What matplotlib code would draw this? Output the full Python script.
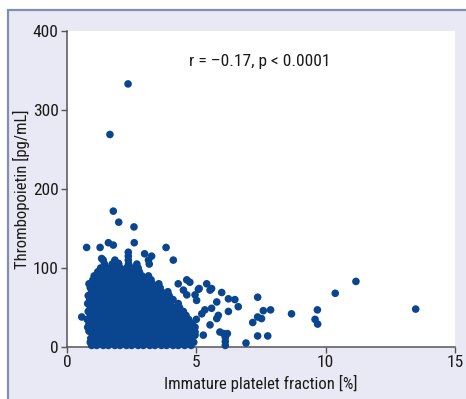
import matplotlib
matplotlib.use("Agg")
import matplotlib.pyplot as plt
from matplotlib.patches import Rectangle
from matplotlib import font_manager
import numpy as np

# ---- data ----
# dense cluster, listed row by row: TPO level -> IPF values
blob_levels = [2, 6, 11, 15, 20, 25, 30, 35, 40, 45, 50, 55, 60, 65, 70, 75, 80, 85, 90, 95, 100, 105, 110, 115, 120]
blob_rows = [
    [0.95, 1.15, 1.4, 1.6, 1.85, 2.05, 2.3, 2.5, 2.75, 2.95, 3.2, 3.4, 3.65, 3.85, 4.1, 4.3, 4.55, 4.8],
    [0.9, 1.1, 1.35, 1.55, 1.8, 2.0, 2.25, 2.45, 2.7, 2.9, 3.15, 3.35, 3.6, 3.8, 4.05, 4.25, 4.5, 4.75, 4.9],
    [0.92, 1.2, 1.45, 1.7, 1.9, 2.15, 2.35, 2.6, 2.8, 3.05, 3.25, 3.5, 3.7, 3.95, 4.15, 4.4, 4.6, 4.85],
    [1.0, 1.25, 1.5, 1.75, 2.0, 2.2, 2.45, 2.65, 2.9, 3.1, 3.35, 3.55, 3.8, 4.0, 4.25, 4.5, 4.7, 4.95],
    [0.85, 1.1, 1.3, 1.55, 1.8, 2.05, 2.25, 2.5, 2.7, 2.95, 3.2, 3.4, 3.6, 3.85, 4.05, 4.3, 4.55, 4.8],
    [0.8, 1.05, 1.3, 1.5, 1.75, 1.95, 2.2, 2.4, 2.65, 2.85, 3.1, 3.3, 3.55, 3.75, 4.0, 4.2, 4.45, 4.7, 4.95],
    [0.85, 1.1, 1.35, 1.6, 1.8, 2.05, 2.3, 2.5, 2.75, 2.95, 3.2, 3.45, 3.65, 3.9, 4.1, 4.35, 4.6, 4.85],
    [0.78, 1.0, 1.25, 1.45, 1.7, 1.9, 2.15, 2.4, 2.6, 2.85, 3.05, 3.3, 3.5, 3.75, 3.95, 4.2, 4.45, 4.7, 5.0],
    [0.9, 1.15, 1.4, 1.6, 1.85, 2.1, 2.3, 2.55, 2.75, 3.0, 3.2, 3.45, 3.65, 3.9, 4.1, 4.35, 4.6],
    [0.82, 1.05, 1.3, 1.55, 1.75, 2.0, 2.2, 2.45, 2.65, 2.9, 3.1, 3.35, 3.55, 3.8, 4.0, 4.25, 4.5],
    [0.9, 1.15, 1.4, 1.65, 1.85, 2.1, 2.3, 2.55, 2.8, 3.0, 3.25, 3.45, 3.7, 3.9, 4.15, 4.35],
    [0.8, 1.05, 1.3, 1.5, 1.75, 1.95, 2.2, 2.4, 2.65, 2.9, 3.1, 3.35, 3.55, 3.8, 4.0, 4.3],
    [0.88, 1.1, 1.35, 1.6, 1.8, 2.05, 2.25, 2.5, 2.7, 2.95, 3.15, 3.4, 3.6, 3.85, 4.1],
    [0.82, 1.05, 1.25, 1.5, 1.7, 1.95, 2.15, 2.4, 2.6, 2.85, 3.05, 3.3, 3.5, 3.75, 3.95],
    [0.95, 1.2, 1.4, 1.65, 1.85, 2.1, 2.3, 2.55, 2.75, 3.0, 3.2, 3.45, 3.65, 3.9],
    [0.9, 1.1, 1.35, 1.55, 1.8, 2.0, 2.25, 2.45, 2.7, 2.9, 3.15, 3.35, 3.6],
    [0.85, 1.05, 1.3, 1.5, 1.75, 1.95, 2.2, 2.4, 2.6, 2.85, 3.05, 3.3, 3.55],
    [1.0, 1.25, 1.45, 1.7, 1.9, 2.15, 2.35, 2.6, 2.8, 3.05, 3.25],
    [1.05, 1.3, 1.55, 1.75, 2.0, 2.2, 2.45, 2.65, 2.9, 3.15],
    [1.2, 1.4, 1.65, 1.85, 2.1, 2.35, 2.55, 2.8],
    [1.3, 1.55, 1.8, 2.05, 2.3, 2.5, 2.75],
    [1.45, 1.75, 2.0, 2.38, 2.7],
    [1.4, 1.85, 2.37, 3.15],
    [2.37],
    [2.37],
]

# individual points outside the dense cluster
ipf_points = [0.76, 1.28, 1.6, 1.79, 2.6, 3.83, 3.0, 3.27, 4.11, 3.18, 4.63, 4.3, 4.75,
              5.4, 5.59, 5.08, 5.11, 5.53, 4.5, 4.95, 5.98, 6.24, 6.49, 6.62, 6.24, 5.85,
              4.63, 5.01, 5.79, 5.21, 5.59, 5.33, 5.79, 5.53, 5.27, 4.95, 0.57,
              5.91, 6.05, 6.2, 6.12, 6.12, 6.12, 6.92,
              7.18, 7.37, 7.52, 7.37, 7.76, 7.37, 7.59, 7.87, 8.68,
              9.68, 9.59, 9.69, 10.37, 11.17, 13.48,
              1.66, 2.36, 1.79, 2.0, 2.59, 1.34, 1.19, 1.98]
tpo_points = [126, 126, 132, 129, 132, 126, 118, 115, 110, 105, 85, 80, 82,
              80, 74, 73, 74, 72, 72, 66, 69, 61, 60, 51, 45, 40,
              66, 59, 57, 42, 49, 47, 36, 28, 15, 19, 38,
              19, 17, 17, 12, 7, 2, 5,
              31, 38, 36, 14, 14, 63, 46, 47, 42,
              47, 35, 29, 68, 83, 48,
              269, 333, 172, 158, 152, 112, 95, 106]

x_ticks = [0, 5, 10, 15]
y_ticks = [0, 100, 200, 300, 400]
annotation = "r = \u20130.17, p < 0.0001"
x_label = "Immature platelet fraction [%]"
y_label = "Thrombopoietin [pg/mL]"

# ---- assemble ----
ipf = []
tpo = []
for lvl, row in zip(blob_levels, blob_rows):
    ipf.extend(row)
    tpo.extend([lvl] * len(row))
ipf.extend(ipf_points)
tpo.extend(tpo_points)

# pick a condensed sans font if one is installed
installed = {f.name for f in font_manager.fontManager.ttflist}
narrow = None
for cand in ['Liberation Sans Narrow', 'Arial Narrow', 'Roboto Condensed',
             'Open Sans Condensed', 'DejaVu Sans Condensed']:
    if cand in installed:
        narrow = cand
        break
if narrow is None:
    narrow = 'Liberation Sans'
plt.rcParams['font.family'] = [narrow, 'DejaVu Sans']
fs = 12.5 if 'Narrow' in narrow or 'Condensed' in narrow else 11

W, H = 466, 399
fig = plt.figure(figsize=(W / 100, H / 100), dpi=100)
fig.patch.set_facecolor('white')
bg = Rectangle((8 / W, -0.1), 1.2, 0.1 + (1 - 10 / H),
               transform=fig.transFigure, facecolor='#e9e9f5',
               edgecolor='#8190ae', linewidth=1.6, zorder=-10)
fig.add_artist(bg)

ax = fig.add_axes([67 / W, 52 / H, 388 / W, 316 / H])
ax.set_zorder(1)
ax.set_facecolor('white')
ax.scatter(ipf, tpo, s=30, color='#0a468f', edgecolors='none', zorder=3, clip_on=False)

ax.set_xlim(0, 15)
ax.set_ylim(0, 400)
ax.set_xticks(x_ticks)
ax.set_yticks(y_ticks)
ax.tick_params(direction='out', length=4, width=1, color='#555555', labelsize=fs,
               labelcolor='#1a1a1a', pad=2)
for s in ['top', 'right']:
    ax.spines[s].set_visible(False)
for s in ['left', 'bottom']:
    ax.spines[s].set_color('#555555')
    ax.spines[s].set_linewidth(1.1)

ax.set_xlabel(x_label, fontsize=fs - 0.5, color='#1a1a1a', labelpad=3)
ax.set_ylabel(y_label, fontsize=fs - 0.5, color='#1a1a1a', labelpad=2)
ax.text(7.46, 362, annotation, ha='center', va='center', fontsize=fs, color='#1a1a1a')

fig.savefig('out.png', dpi=100, facecolor=fig.get_facecolor())
